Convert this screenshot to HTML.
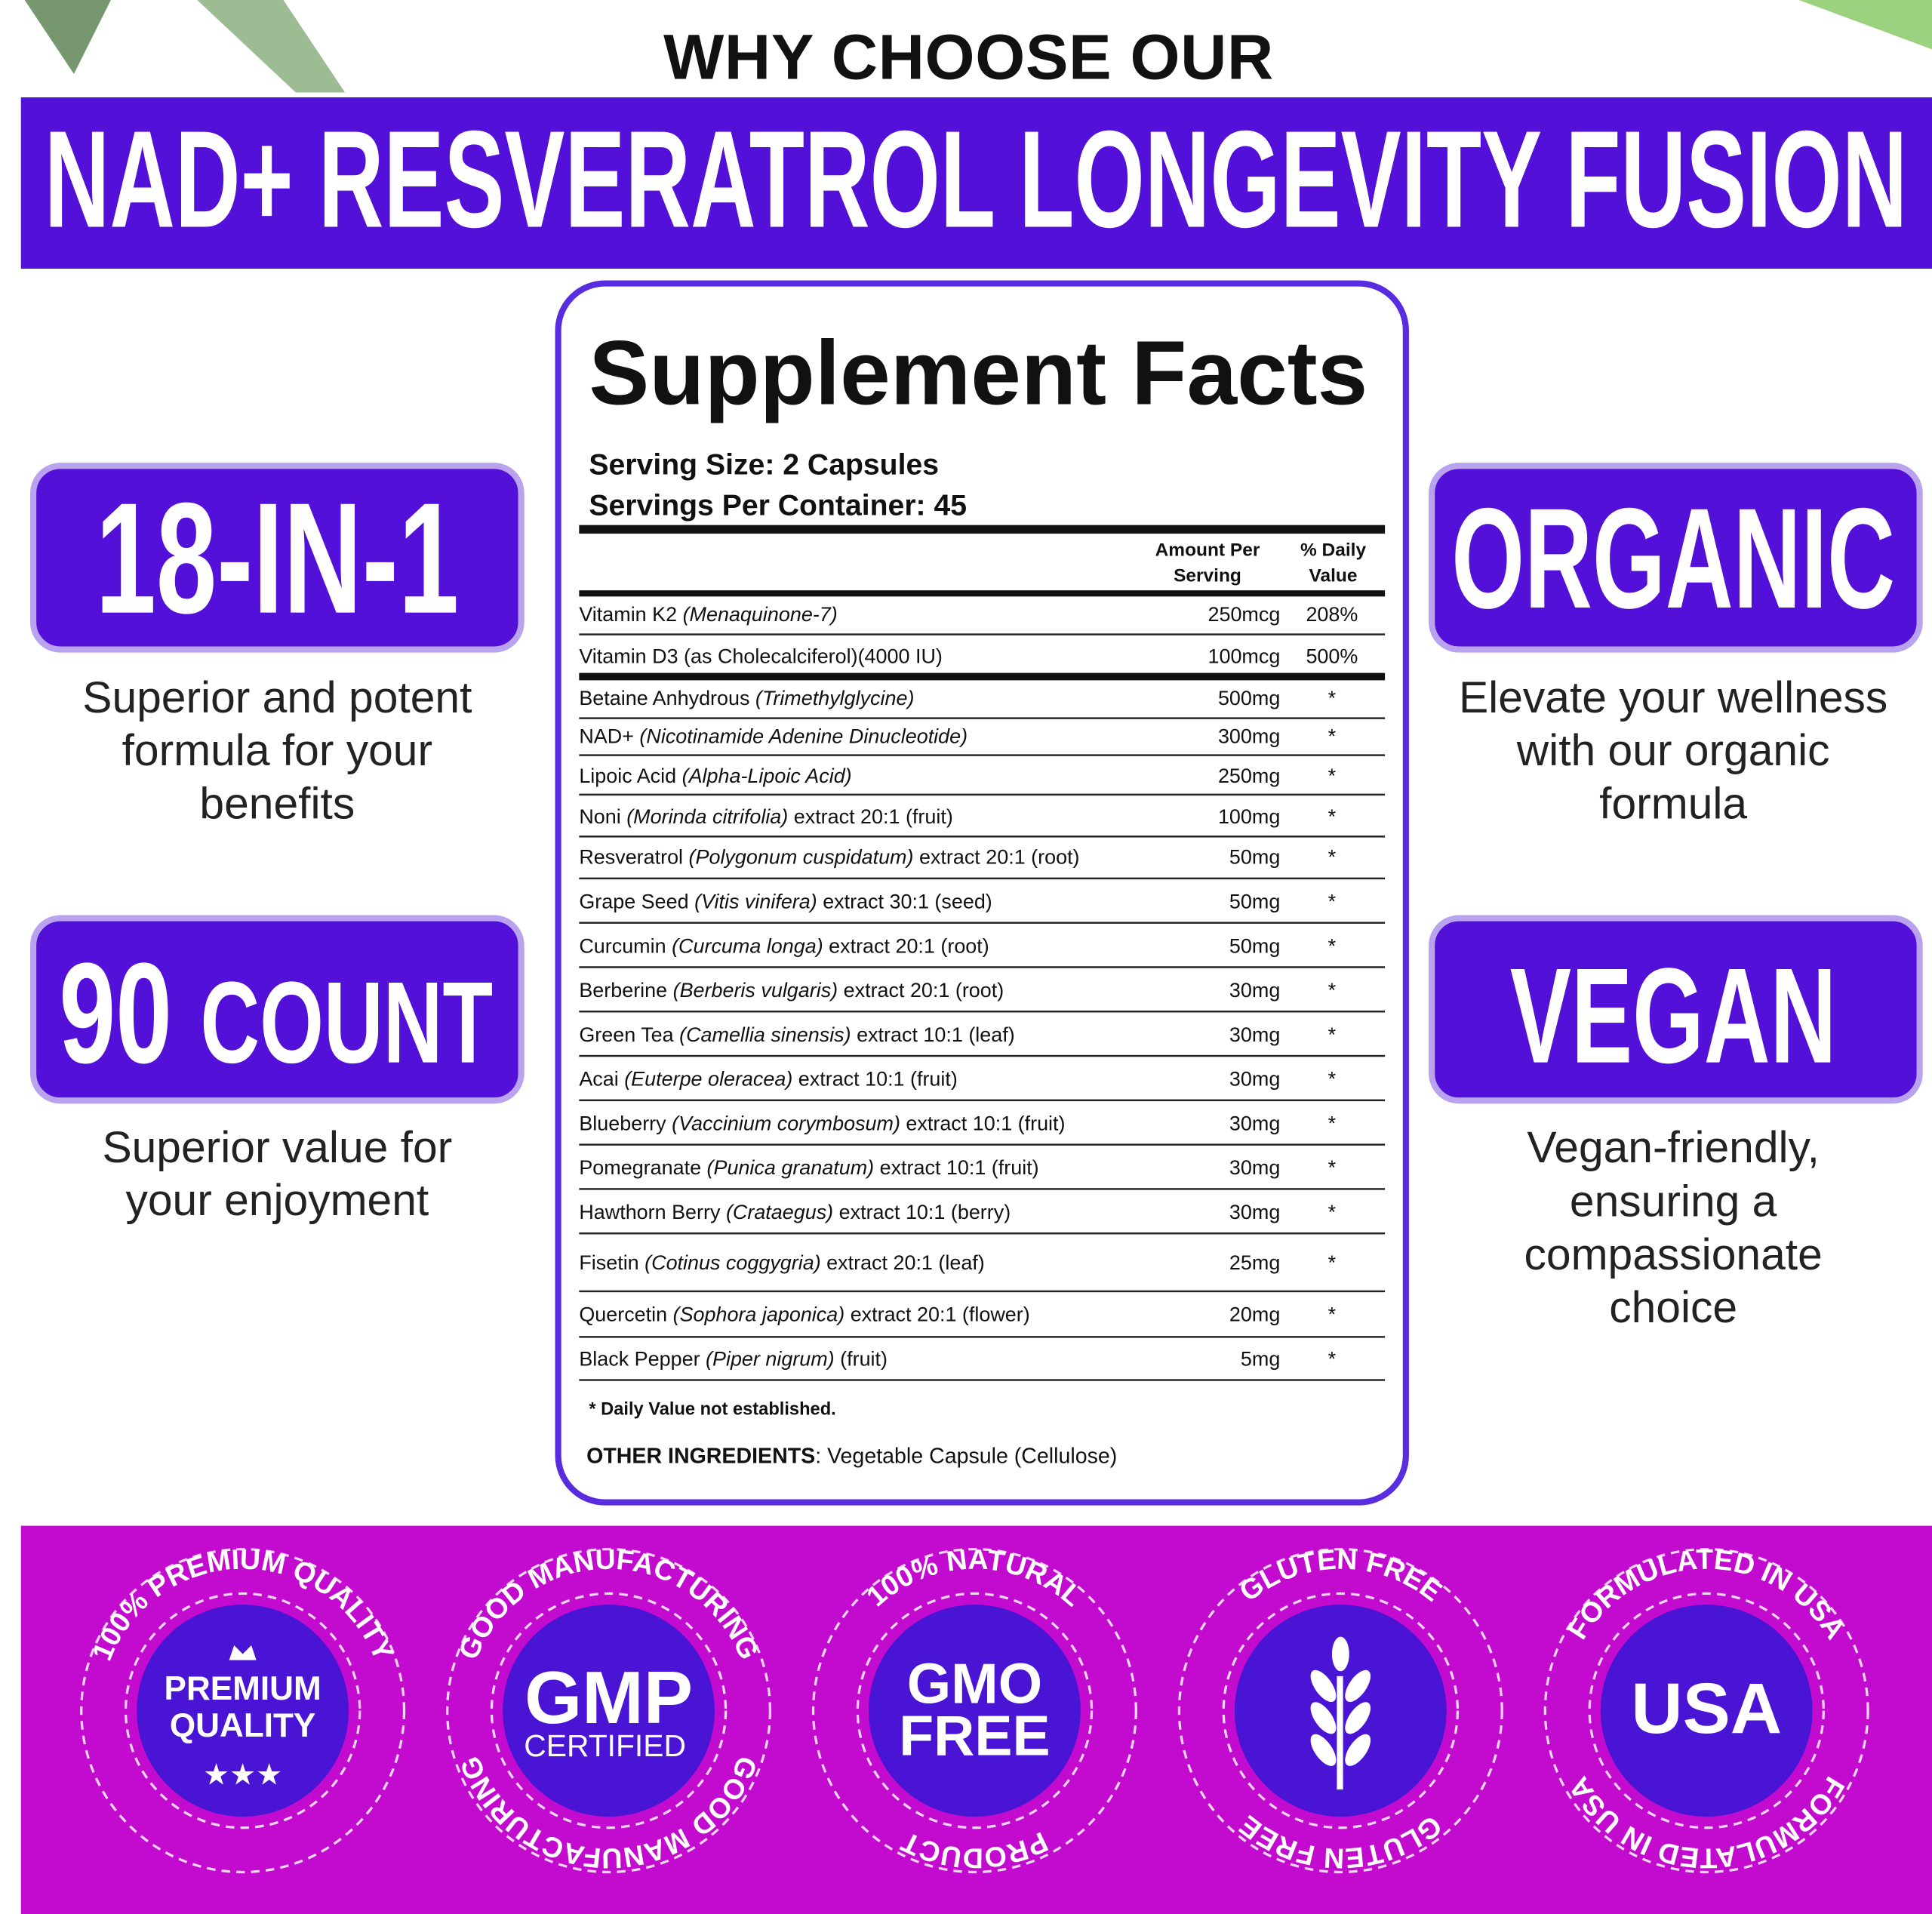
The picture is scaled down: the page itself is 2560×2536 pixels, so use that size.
<!DOCTYPE html>
<html><head><meta charset="utf-8"><style>
html,body{margin:0;padding:0;background:#fff;}
svg{display:block;}
.n{font-family:"Liberation Sans Narrow","Liberation Sans",sans-serif;font-weight:bold;}
.s{font-family:"Liberation Sans","DejaVu Sans",sans-serif;}
</style></head><body>
<svg width="2560" height="2536" viewBox="0 0 1568 1553" preserveAspectRatio="none" xmlns="http://www.w3.org/2000/svg">
<rect width="1568" height="1553" fill="#fff"/>
<path d="M20 0 L90 0 L60 60 Z" fill="#3d6b35" opacity="0.7"/>
<path d="M160 0 L230 0 L280 75 L240 75 Z" fill="#5c8f4c" opacity="0.6"/>
<path d="M1460 0 L1568 0 L1568 40 Z" fill="#6fbf4a" opacity="0.7"/>
<text x="786" y="64" text-anchor="middle" class="s" font-weight="bold" font-size="52" fill="#111" textLength="495">WHY CHOOSE OUR</text>
<rect x="17" y="79" width="1551" height="139" fill="#5310d8"/>
<text x="36" y="184" class="n" font-size="112" fill="#fff" textLength="1512" lengthAdjust="spacingAndGlyphs">NAD+ RESVERATROL LONGEVITY FUSION</text>

<rect x="27" y="378" width="396" height="149" rx="22" fill="#5310d8" stroke="#b9a3ee" stroke-width="5"/>
<text x="225" y="497" text-anchor="middle" class="n" font-size="128" fill="#fff" textLength="295" lengthAdjust="spacingAndGlyphs">18-IN-1</text>
<g class="s" font-size="36" fill="#222" text-anchor="middle">
<text x="225" y="578">Superior and potent</text>
<text x="225" y="621">formula for your</text>
<text x="225" y="664">benefits</text>
<text x="225" y="943">Superior value for</text>
<text x="225" y="986">your enjoyment</text>
<text x="1358" y="578">Elevate your wellness</text>
<text x="1358" y="621">with our organic</text>
<text x="1358" y="664">formula</text>
<text x="1358" y="943">Vegan-friendly,</text>
<text x="1358" y="987">ensuring a</text>
<text x="1358" y="1030">compassionate</text>
<text x="1358" y="1073">choice</text>
</g>
<rect x="27" y="745" width="396" height="148" rx="22" fill="#5310d8" stroke="#b9a3ee" stroke-width="5"/>
<text x="48" y="862" class="n" fill="#fff" textLength="352" lengthAdjust="spacingAndGlyphs"><tspan font-size="116">90 </tspan><tspan font-size="94">COUNT</tspan></text>
<rect x="1162" y="378" width="396" height="149" rx="22" fill="#5310d8" stroke="#b9a3ee" stroke-width="5"/>
<text x="1358" y="493" text-anchor="middle" class="n" font-size="116" fill="#fff" textLength="360" lengthAdjust="spacingAndGlyphs">ORGANIC</text>
<rect x="1162" y="745" width="396" height="148" rx="22" fill="#5310d8" stroke="#b9a3ee" stroke-width="5"/>
<text x="1358" y="862" text-anchor="middle" class="n" font-size="110" fill="#fff" textLength="265" lengthAdjust="spacingAndGlyphs">VEGAN</text>

<rect x="453" y="230" width="688" height="989" rx="38" fill="#fff" stroke="#5a2ce0" stroke-width="5"/>
<text x="478" y="328" class="s" font-weight="bold" font-size="74" fill="#111" textLength="632" lengthAdjust="spacingAndGlyphs">Supplement Facts</text>
<text x="478" y="385" class="s" font-weight="bold" font-size="24" fill="#111">Serving Size: 2 Capsules</text>
<text x="478" y="418" class="s" font-weight="bold" font-size="24" fill="#111">Servings Per Container: 45</text>
<rect x="470" y="426" width="654" height="7" fill="#111"/>
<g class="s" font-weight="bold" font-size="15" fill="#111" text-anchor="middle">
<text x="980" y="451">Amount Per</text><text x="980" y="472">Serving</text>
<text x="1082" y="451">% Daily</text><text x="1082" y="472">Value</text>
</g>
<rect x="470" y="479" width="654" height="5" fill="#111"/>
<g class="s" font-size="16.5" fill="#111">
<text x="470" y="504">Vitamin K2 <tspan font-style="italic">(Menaquinone-7)</tspan></text>
<text x="470" y="538">Vitamin D3 (as Cholecalciferol)(4000 IU)</text>
<text x="470" y="572">Betaine Anhydrous <tspan font-style="italic">(Trimethylglycine)</tspan></text>
<text x="470" y="603">NAD+ <tspan font-style="italic">(Nicotinamide Adenine Dinucleotide)</tspan></text>
<text x="470" y="635">Lipoic Acid <tspan font-style="italic">(Alpha-Lipoic Acid)</tspan></text>
<text x="470" y="668">Noni <tspan font-style="italic">(Morinda citrifolia)</tspan> extract 20:1 (fruit)</text>
<text x="470" y="701">Resveratrol <tspan font-style="italic">(Polygonum cuspidatum)</tspan> extract 20:1 (root)</text>
<text x="470" y="737">Grape Seed <tspan font-style="italic">(Vitis vinifera)</tspan> extract 30:1 (seed)</text>
<text x="470" y="773">Curcumin <tspan font-style="italic">(Curcuma longa)</tspan> extract 20:1 (root)</text>
<text x="470" y="809">Berberine <tspan font-style="italic">(Berberis vulgaris)</tspan> extract 20:1 (root)</text>
<text x="470" y="845">Green Tea <tspan font-style="italic">(Camellia sinensis)</tspan> extract 10:1 (leaf)</text>
<text x="470" y="881">Acai <tspan font-style="italic">(Euterpe oleracea)</tspan> extract 10:1 (fruit)</text>
<text x="470" y="917">Blueberry <tspan font-style="italic">(Vaccinium corymbosum)</tspan> extract 10:1 (fruit)</text>
<text x="470" y="953">Pomegranate <tspan font-style="italic">(Punica granatum)</tspan> extract 10:1 (fruit)</text>
<text x="470" y="989">Hawthorn Berry <tspan font-style="italic">(Crataegus)</tspan> extract 10:1 (berry)</text>
<text x="470" y="1030">Fisetin <tspan font-style="italic">(Cotinus coggygria)</tspan> extract 20:1 (leaf)</text>
<text x="470" y="1072">Quercetin <tspan font-style="italic">(Sophora japonica)</tspan> extract 20:1 (flower)</text>
<text x="470" y="1108">Black Pepper <tspan font-style="italic">(Piper nigrum)</tspan> (fruit)</text>
</g>
<g class="s" font-size="16.5" fill="#111" text-anchor="end">
<text x="1039" y="504">250mcg</text><text x="1039" y="538">100mcg</text>
<text x="1039" y="572">500mg</text><text x="1039" y="603">300mg</text><text x="1039" y="635">250mg</text>
<text x="1039" y="668">100mg</text><text x="1039" y="701">50mg</text><text x="1039" y="737">50mg</text>
<text x="1039" y="773">50mg</text><text x="1039" y="809">30mg</text><text x="1039" y="845">30mg</text>
<text x="1039" y="881">30mg</text><text x="1039" y="917">30mg</text><text x="1039" y="953">30mg</text>
<text x="1039" y="989">30mg</text><text x="1039" y="1030">25mg</text><text x="1039" y="1072">20mg</text>
<text x="1039" y="1108">5mg</text>
</g>
<g class="s" font-size="16.5" fill="#111" text-anchor="middle">
<text x="1081" y="504">208%</text><text x="1081" y="538">500%</text>
<text x="1081" y="572">*</text><text x="1081" y="603">*</text><text x="1081" y="635">*</text><text x="1081" y="668">*</text>
<text x="1081" y="701">*</text><text x="1081" y="737">*</text><text x="1081" y="773">*</text><text x="1081" y="809">*</text>
<text x="1081" y="845">*</text><text x="1081" y="881">*</text><text x="1081" y="917">*</text><text x="1081" y="953">*</text>
<text x="1081" y="989">*</text><text x="1081" y="1030">*</text><text x="1081" y="1072">*</text><text x="1081" y="1108">*</text>
</g>
<g fill="#222">
<rect x="470" y="514" width="654" height="1.5"/>
<rect x="470" y="546" width="654" height="6" fill="#111"/>
<rect x="470" y="582" width="654" height="1.5"/><rect x="470" y="612" width="654" height="1.5"/>
<rect x="470" y="644" width="654" height="1.5"/><rect x="470" y="678" width="654" height="1.5"/>
<rect x="470" y="712" width="654" height="1.5"/><rect x="470" y="748" width="654" height="1.5"/>
<rect x="470" y="784" width="654" height="1.5"/><rect x="470" y="820" width="654" height="1.5"/>
<rect x="470" y="856" width="654" height="1.5"/><rect x="470" y="892" width="654" height="1.5"/>
<rect x="470" y="928" width="654" height="1.5"/><rect x="470" y="964" width="654" height="1.5"/>
<rect x="470" y="1000" width="654" height="1.5"/><rect x="470" y="1047" width="654" height="1.5"/>
<rect x="470" y="1084" width="654" height="1.5"/><rect x="470" y="1119" width="654" height="1.5"/>
</g>
<text x="478" y="1148" class="s" font-weight="bold" font-size="14.5" fill="#111">* Daily Value not established.</text>
<text x="476" y="1187" class="s" font-size="17.5" fill="#111"><tspan font-weight="bold">OTHER INGREDIENTS</tspan>: Vegetable Capsule (Cellulose)</text>

<rect x="17" y="1238" width="1551" height="315" fill="#c30bd0"/>
<defs>
<path id="a1" d="M 82 1388 A 115 115 0 0 1 312 1388"/>
<path id="a2" d="M 379 1388 A 115 115 0 0 1 609 1388"/>
<path id="a3" d="M 676 1388 A 115 115 0 0 1 906 1388"/>
<path id="a4" d="M 973 1388 A 115 115 0 0 1 1203 1388"/>
<path id="a5" d="M 1270 1388 A 115 115 0 0 1 1500 1388"/>
<path id="b2" d="M 606 1388 A 112 112 0 0 1 382 1388"/>
<path id="b3" d="M 903 1388 A 112 112 0 0 1 679 1388"/>
<path id="b4" d="M 1200 1388 A 112 112 0 0 1 976 1388"/>
<path id="b5" d="M 1497 1388 A 112 112 0 0 1 1273 1388"/>
</defs>
<g fill="none" stroke="#f3d6f5" stroke-width="2" stroke-dasharray="7 5">
<circle cx="197" cy="1388" r="131"/><circle cx="197" cy="1388" r="95"/>
<circle cx="494" cy="1388" r="131"/><circle cx="494" cy="1388" r="95"/>
<circle cx="791" cy="1388" r="131"/><circle cx="791" cy="1388" r="95"/>
<circle cx="1088" cy="1388" r="131"/><circle cx="1088" cy="1388" r="95"/>
<circle cx="1385" cy="1388" r="131"/><circle cx="1385" cy="1388" r="95"/>
</g>
<g fill="#4a14d4">
<circle cx="197" cy="1388" r="86"/><circle cx="494" cy="1388" r="86"/><circle cx="791" cy="1388" r="86"/>
<circle cx="1088" cy="1388" r="86"/><circle cx="1385" cy="1388" r="86"/>
</g>
<g class="s" font-weight="bold" font-size="23" fill="#fff">
<text><textPath href="#a1" startOffset="50%" text-anchor="middle">100% PREMIUM QUALITY</textPath></text>
<text><textPath href="#a2" startOffset="50%" text-anchor="middle">GOOD MANUFACTURING</textPath></text>
<text><textPath href="#a3" startOffset="50%" text-anchor="middle">100% NATURAL</textPath></text>
<text><textPath href="#a4" startOffset="50%" text-anchor="middle">GLUTEN FREE</textPath></text>
<text><textPath href="#a5" startOffset="50%" text-anchor="middle">FORMULATED IN USA</textPath></text>
<text><textPath href="#b2" startOffset="50%" text-anchor="middle">GOOD MANUFACTURING</textPath></text>
<text><textPath href="#b3" startOffset="50%" text-anchor="middle">PRODUCT</textPath></text>
<text><textPath href="#b4" startOffset="50%" text-anchor="middle">GLUTEN FREE</textPath></text>
<text><textPath href="#b5" startOffset="50%" text-anchor="middle">FORMULATED IN USA</textPath></text>
</g>
<g class="s" font-weight="bold" fill="#fff" text-anchor="middle">
<path d="M186 1347 L190 1335 L197 1342 L204 1335 L208 1347 Z"/>
<text x="197" y="1379" font-size="27">PREMIUM</text>
<text x="197" y="1409" font-size="27">QUALITY</text>
<text x="197" y="1448" font-size="24">★★★</text>
<text x="494" y="1398" font-size="60">GMP</text>
<text x="491" y="1425" font-size="25" font-weight="normal">CERTIFIED</text>
<text x="791" y="1382" font-size="46">GMO</text>
<text x="791" y="1424" font-size="46">FREE</text>
<text x="1385" y="1406" font-size="58">USA</text>
</g>
<g fill="#fff">
<rect x="1085" y="1360" width="5" height="92"/>
<ellipse cx="1088" cy="1342" rx="7" ry="14"/>
<ellipse cx="1074" cy="1368" rx="7" ry="15" transform="rotate(-35 1074 1368)"/>
<ellipse cx="1102" cy="1368" rx="7" ry="15" transform="rotate(35 1102 1368)"/>
<ellipse cx="1074" cy="1394" rx="7" ry="15" transform="rotate(-35 1074 1394)"/>
<ellipse cx="1102" cy="1394" rx="7" ry="15" transform="rotate(35 1102 1394)"/>
<ellipse cx="1074" cy="1420" rx="7" ry="15" transform="rotate(-35 1074 1420)"/>
<ellipse cx="1102" cy="1420" rx="7" ry="15" transform="rotate(35 1102 1420)"/>
</g>
</svg>
</body></html>
